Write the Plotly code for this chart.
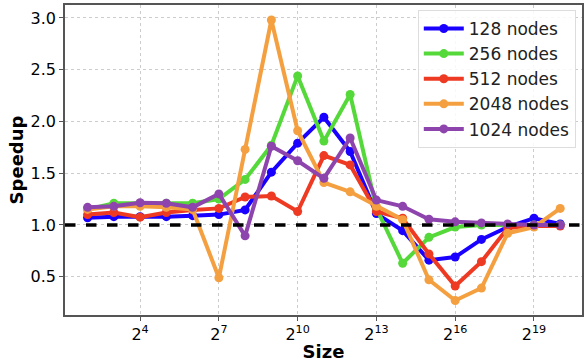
import plotly.graph_objects as go

exponents = list(range(2, 21))
sizes = [2 ** e for e in exponents]

nodes_128 = [1.07, 1.08, 1.08, 1.08, 1.09, 1.10, 1.145, 1.51, 1.79, 2.04, 1.71, 1.11, 0.945, 0.66, 0.69, 0.86, 0.98, 1.065, 1.01]
nodes_256 = [1.15, 1.21, 1.21, 1.21, 1.21, 1.25, 1.44, 1.77, 2.44, 1.81, 2.26, 1.16, 0.63, 0.88, 0.98, 1.0, 1.0, 1.0, 1.0]
nodes_512 = [1.10, 1.12, 1.075, 1.12, 1.145, 1.16, 1.27, 1.28, 1.13, 1.67, 1.58, 1.13, 1.065, 0.72, 0.41, 0.645, 0.97, 0.99, 0.99]
nodes_2048 = [1.15, 1.18, 1.18, 1.17, 1.15, 0.49, 1.73, 2.98, 1.91, 1.41, 1.32, 1.18, 1.05, 0.47, 0.27, 0.39, 0.92, 0.98, 1.16]
nodes_1024 = [1.17, 1.18, 1.215, 1.21, 1.17, 1.30, 0.895, 1.76, 1.62, 1.45, 1.84, 1.24, 1.18, 1.055, 1.03, 1.02, 1.01, 1.0, 1.0]

series = [
    ("128 nodes", nodes_128, "#1a00ff"),
    ("256 nodes", nodes_256, "#55d93a"),
    ("512 nodes", nodes_512, "#ee3a22"),
    ("2048 nodes", nodes_2048, "#f4a040"),
    ("1024 nodes", nodes_1024, "#8e44ad"),
]

tick_exps = [4, 7, 10, 13, 16, 19]
tick_vals = [2 ** e for e in tick_exps]
tick_text = [f"2<sup>{e}</sup>" for e in tick_exps]

fig = go.Figure()
for name, vals, color in series:
    fig.add_trace(go.Scatter(
        x=sizes, y=vals, name=name, mode="lines+markers",
        line=dict(color=color, width=4),
        marker=dict(color=color, size=9),
    ))

fig.add_shape(type="line", xref="paper", x0=0, x1=1, yref="y", y0=1.0, y1=1.0,
              line=dict(color="black", width=3.5, dash="dash"))

fig.update_layout(
    width=585, height=362,
    margin=dict(l=65, r=1, t=5, b=47),
    paper_bgcolor="white", plot_bgcolor="white",
    font=dict(family="DejaVu Sans", size=15, color="black"),
    showlegend=True,
    legend=dict(
        x=0.988, y=0.984, xanchor="right", yanchor="top",
        bgcolor="rgba(255,255,255,0.85)", bordercolor="#dddddd", borderwidth=1,
        font=dict(size=17, family="DejaVu Sans", color="#222222"),
        tracegroupgap=0, itemwidth=40,
    ),
    xaxis=dict(
        type="log",
        range=[1.14 * 0.30103, 20.83 * 0.30103],
        tickvals=tick_vals, ticktext=tick_text,
        showgrid=True, gridcolor="#cccccc", griddash="dot", gridwidth=1,
        showline=True, linecolor="#555555", linewidth=1.5, mirror=True,
        ticks="outside", ticklen=4, tickcolor="#555555",
        title=dict(text="<b>Size</b>", font=dict(size=18), standoff=4),
        tickfont=dict(size=16),
    ),
    yaxis=dict(
        range=[0.13, 3.125],
        tickvals=[0.5, 1.0, 1.5, 2.0, 2.5, 3.0],
        ticktext=["0.5", "1.0", "1.5", "2.0", "2.5", "3.0"],
        showgrid=True, gridcolor="#cccccc", griddash="dot", gridwidth=1,
        showline=True, linecolor="#555555", linewidth=1.5, mirror=True,
        ticks="outside", ticklen=4, tickcolor="#555555",
        zeroline=False,
        title=dict(text="<b>Speedup</b>", font=dict(size=18), standoff=2),
        tickfont=dict(size=16),
    ),
)

fig.write_html("out.html", config={"displayModeBar": False},
               post_script="document.body.style.margin='0';")
